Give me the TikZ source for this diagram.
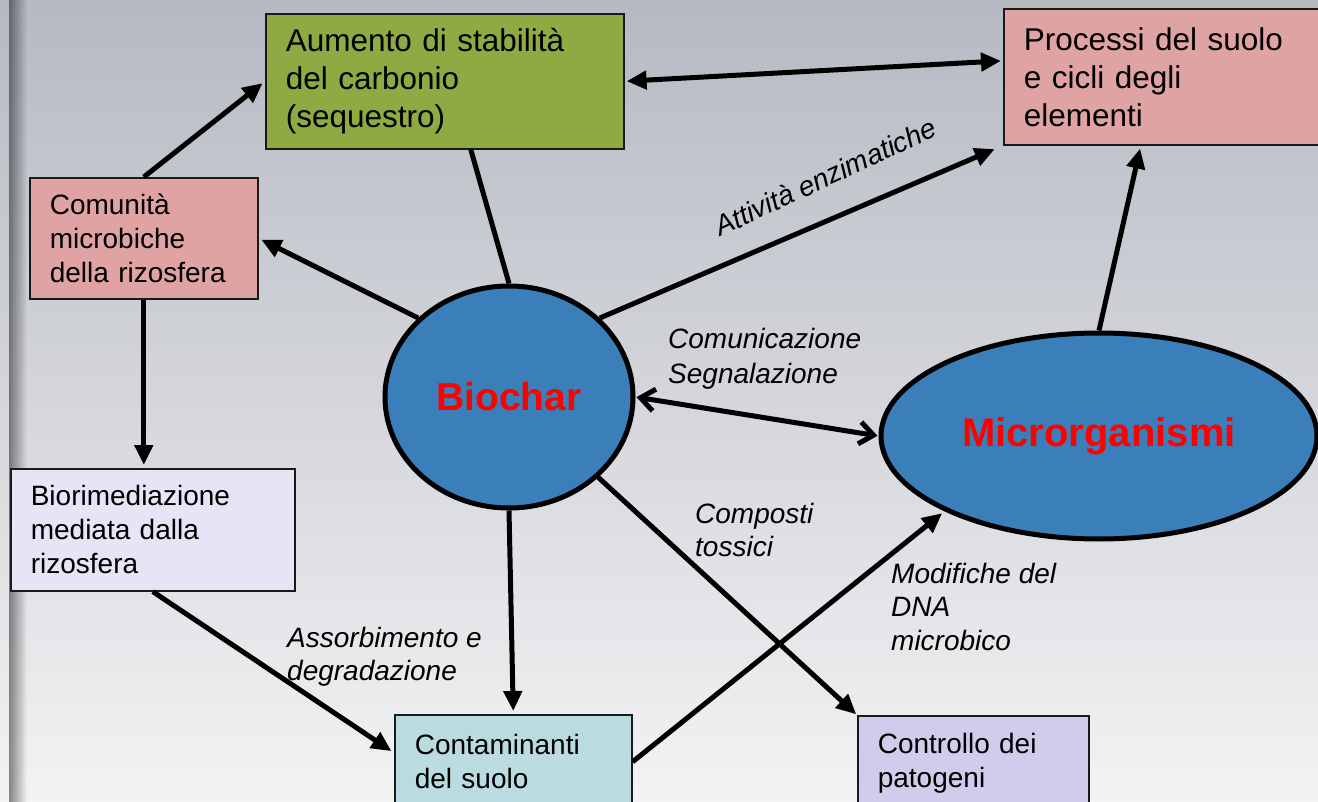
\documentclass[tikz,border=0pt]{standalone}
\usepackage{fontspec}
\setmainfont{Liberation Sans}
\usetikzlibrary{shapes.geometric,arrows.meta,calc}

\definecolor{bgtop}{RGB}{181,185,194}
\definecolor{bgbot}{RGB}{243,243,244}
\definecolor{pinkbox}{RGB}{224,163,163}
\definecolor{greenbox}{RGB}{141,171,66}
\definecolor{lavlight}{RGB}{230,228,245}
\definecolor{lavbox}{RGB}{208,205,236}
\definecolor{cyanbox}{RGB}{186,219,224}
\definecolor{ellblue}{RGB}{58,127,185}

\begin{document}
\begin{tikzpicture}[x=1pt,y=-1pt,
  box/.style={draw=black!90, line width=1.6pt, anchor=north west, inner xsep=20pt, inner ysep=0pt, align=left, font=\fontsize{28}{34}\selectfont},
  bigbox/.style={box, font=\fontsize{31.5}{38}\selectfont},
  blob/.style={ellipse, draw=black, line width=5pt, fill=ellblue, inner sep=0pt, text=red, font=\fontsize{39}{44}\selectfont\bfseries},
  conn/.style={line width=5pt, -{Triangle[length=20pt,width=18pt]}, shorten >=3pt},
  dbl/.style={line width=5pt, {Triangle[length=20pt,width=18pt]}-{Triangle[length=20pt,width=18pt]}, shorten >=2pt, shorten <=2pt},
  barb/.style={line width=5pt, {Straight Barb[length=14pt,width=22pt]}-{Straight Barb[length=14pt,width=22pt]}, shorten >=1pt, shorten <=1pt},
  plainline/.style={line width=5pt},
  lbl/.style={font=\fontsize{28}{33.5}\selectfont\itshape, align=left, anchor=north west, inner sep=0pt}
]
\useasboundingbox (0,0) rectangle (1318,802);
\clip (0,0) rectangle (1318,802);
\shade[top color=bgtop, bottom color=bgbot] (0,0) rectangle (1318,802);
\foreach \i [evaluate=\i as \op using 0.45*(1-\i/18)] in {0,...,17}
  \fill[black, opacity=\op] ({9+\i},0) rectangle ({10+\i},802);

% boxes
\node[bigbox, fill=greenbox, minimum width=358pt, minimum height=135pt, text width=318pt] (green) at (265,13) {Aumento di stabilità\\del carbonio\\(sequestro)};
\node[bigbox, fill=pinkbox, minimum width=322pt, minimum height=136pt, text width=282pt] (proc) at (1003,8) {Processi del suolo\\e cicli degli\\elementi};
\node[box, fill=pinkbox, minimum width=228pt, minimum height=121pt, text width=188pt] (comm) at (29,177) {Comunità\\microbiche\\della rizosfera};
\node[box, fill=lavlight, minimum width=284pt, minimum height=122pt, text width=244pt] (bior) at (10,468) {Biorimediazione\\mediata dalla\\rizosfera};
\node[box, fill=cyanbox, minimum width=237pt, minimum height=94pt, text width=197pt] (cont) at (394,714) {Contaminanti\\del suolo};
\node[box, fill=lavbox, minimum width=231pt, minimum height=94pt, text width=191pt] (ctrl) at (857,715) {Controllo dei\\patogeni};

% ellipses
\node[blob, minimum width=248pt, minimum height=222pt] (biochar) at (509,397) {Biochar};
\node[blob, minimum width=436pt, minimum height=206pt, font=\fontsize{40}{44}\selectfont\bfseries] (micro) at (1099,436) {Microrganismi};

% connectors
\draw[conn] (comm.north) -- (green.west);
\draw[plainline] ([xshift=26pt]green.south) -- (biochar.north);
\draw[dbl] (green.east) -- ([yshift=16pt]proc.west);
\draw[conn, shorten >=9pt] (biochar.41) -- (proc.south west);
\draw[conn] (biochar.139) -- (comm.east);
\draw[conn] (comm.south) -- (comm.south |- bior.north);
\draw[conn] (bior.south) -- ([yshift=9pt]cont.west);
\draw[conn] (biochar.south) -- (cont.north);
\draw[conn, shorten >=1pt] (biochar.-42) -- (ctrl.north west);
\draw[conn] (cont.east) -- (micro.206);
\draw[barb] (biochar.east) -- (micro.west);
\draw[conn] (micro.north) -- ([xshift=-24pt]proc.south);

% labels
\node[lbl, font=\fontsize{28}{34}\selectfont\itshape, anchor=base west, rotate=25] (l1) at (720,237) {Attività enzimatiche};
\node[lbl, font=\fontsize{28}{35}\selectfont\itshape] (l2) at (668,328) {Comunicazione\\Segnalazione};
\node[lbl] (l3) at (695,503) {Composti\\tossici};
\node[lbl] (l4) at (891,563) {Modifiche del\\DNA\\microbico};
\node[lbl] (l5) at (287,627) {Assorbimento e\\degradazione};
\end{tikzpicture}
\end{document}
